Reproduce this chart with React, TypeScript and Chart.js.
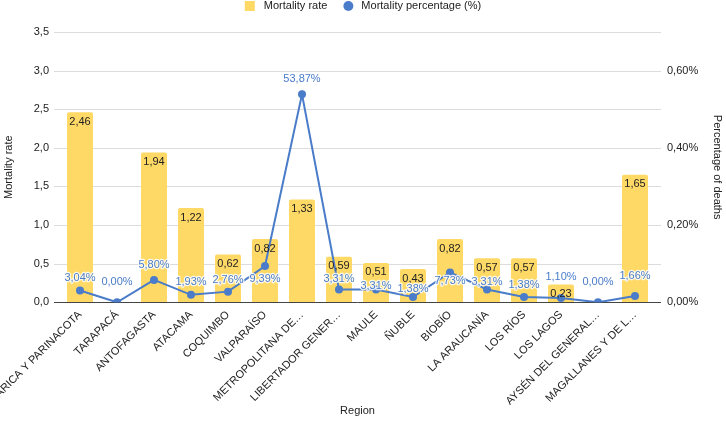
import React, { useEffect, useRef } from "react";
import { Chart, registerables } from "chart.js";

Chart.register(...registerables);

// ---- data ----
const regions = [
  "ARICA Y PARINACOTA",
  "TARAPACÁ",
  "ANTOFAGASTA",
  "ATACAMA",
  "COQUIMBO",
  "VALPARAÍSO",
  "METROPOLITANA DE…",
  "LIBERTADOR GENER…",
  "MAULE",
  "ÑUBLE",
  "BIOBÍO",
  "LA ARAUCANÍA",
  "LOS RÍOS",
  "LOS LAGOS",
  "AYSÉN DEL GENERAL…",
  "MAGALLANES Y DE L…",
];
const mortalityRate = [2.46, 0, 1.94, 1.22, 0.62, 0.82, 1.33, 0.59, 0.51, 0.43, 0.82, 0.57, 0.57, 0.23, 0, 1.65];
// values as printed on the labels (plotted on the right axis as value / 100 %)
const mortalityPercentage = [3.04, 0, 5.8, 1.93, 2.76, 9.39, 53.87, 3.31, 3.31, 1.38, 7.73, 3.31, 1.38, 1.1, 0, 1.66];
const rateTickLabels = ["0,0", "0,5", "1,0", "1,5", "2,0", "2,5", "3,0", "3,5"];
const pctTickLabels = ["0,00%", "", "0,20%", "", "0,40%", "", "0,60%", ""];

// ---- style ----
const FONT_FAMILY = "'Liberation Sans', Arial, Helvetica, sans-serif";
const YELLOW = "#ffd966";
const BLUE = "#4a7cc9";
const TEXT = "#222222";
const lineLabelDy = [-13, -20, -15, -13, -12, 13, -15, -11, -4, -8, 9, -8, -12, -21, -20, -20];

const fmt = (v: number, d: number) => v.toFixed(d).replace(".", ",");

const gridPlugin = {
  id: "customGrid",
  beforeDatasetsDraw(chart: any) {
    const { ctx, chartArea, scales } = chart;
    const y = scales.y;
    ctx.save();
    y.ticks.forEach((t: any) => {
      if (t.value === 0) return;
      const py = Math.round(y.getPixelForValue(t.value)) + 0.5;
      ctx.beginPath();
      ctx.strokeStyle = "#dcdcdc";
      ctx.lineWidth = 1;
      ctx.moveTo(chartArea.left - 7.5, py);
      ctx.lineTo(chartArea.right + 7.5, py);
      ctx.stroke();
    });
    ctx.restore();
  },
  afterDatasetDraw(chart: any, args: any) {
    if (args.index !== 0) return;
    const { ctx, chartArea, scales } = chart;
    const py = Math.round(scales.y.getPixelForValue(0)) + 0.5;
    ctx.save();
    ctx.beginPath();
    ctx.strokeStyle = "#444444";
    ctx.lineWidth = 1;
    ctx.moveTo(chartArea.left - 7.5, py);
    ctx.lineTo(chartArea.right + 7.5, py);
    ctx.stroke();
    ctx.restore();
  },
};

const labelPlugin = {
  id: "valueLabels",
  afterDatasetsDraw(chart: any) {
    const { ctx } = chart;
    ctx.save();
    ctx.font = `11px ${FONT_FAMILY}`;
    ctx.textAlign = "center";
    ctx.textBaseline = "middle";
    const barMeta = chart.getDatasetMeta(0);
    barMeta.data.forEach((el: any, i: number) => {
      if (mortalityRate[i] === 0) return;
      ctx.fillStyle = TEXT;
      ctx.fillText(fmt(mortalityRate[i], 2), el.x, el.y + 9.5);
    });
    const lineMeta = chart.getDatasetMeta(1);
    lineMeta.data.forEach((pt: any, i: number) => {
      const txt = fmt(mortalityPercentage[i], 2) + "%";
      const y = pt.y + lineLabelDy[i];
      ctx.lineJoin = "round";
      ctx.lineWidth = 2.5;
      ctx.strokeStyle = "rgba(255,255,255,0.85)";
      ctx.strokeText(txt, pt.x, y);
      ctx.fillStyle = BLUE;
      ctx.fillText(txt, pt.x, y);
    });
    ctx.restore();
  },
};

const legendPlugin = {
  id: "customLegend",
  afterDraw(chart: any) {
    const { ctx, width } = chart;
    const ds = chart.data.datasets;
    ctx.save();
    ctx.font = `11px ${FONT_FAMILY}`;
    ctx.textBaseline = "middle";
    ctx.textAlign = "left";
    const w1 = ctx.measureText(ds[0].label).width;
    const w2 = ctx.measureText(ds[1].label).width;
    const total = 10 + 9 + w1 + 16 + 10 + 8 + w2;
    let x = (width - total) / 2;
    const cy = 6;
    ctx.fillStyle = YELLOW;
    ctx.fillRect(x, cy - 5, 10, 10);
    x += 19;
    ctx.fillStyle = TEXT;
    ctx.fillText(ds[0].label, x, cy);
    x += w1 + 16;
    ctx.fillStyle = BLUE;
    ctx.beginPath();
    ctx.arc(x + 5, cy, 5, 0, Math.PI * 2);
    ctx.fill();
    x += 18;
    ctx.fillStyle = TEXT;
    ctx.fillText(ds[1].label, x, cy);
    ctx.restore();
  },
};

export default function App() {
  const canvasRef = useRef<HTMLCanvasElement | null>(null);

  useEffect(() => {
    document.body.style.margin = "0";
    const canvas = canvasRef.current;
    if (!canvas) return;
    const font = { family: FONT_FAMILY, size: 11 };
    const chart = new Chart(canvas, {
      type: "bar",
      data: {
        labels: regions,
        datasets: [
          {
            type: "bar",
            label: "Mortality rate",
            data: mortalityRate,
            backgroundColor: YELLOW,
            borderRadius: { topLeft: 2, topRight: 2, bottomLeft: 0, bottomRight: 0 },
            borderSkipped: false,
            categoryPercentage: 1,
            barPercentage: 0.703,
            yAxisID: "y",
            order: 2,
          },
          {
            type: "line",
            label: "Mortality percentage (%)",
            data: mortalityPercentage.map((v) => v / 100),
            borderColor: BLUE,
            backgroundColor: BLUE,
            borderWidth: 2,
            pointRadius: 4,
            pointBorderWidth: 0,
            pointBackgroundColor: BLUE,
            tension: 0,
            yAxisID: "y1",
            order: 1,
          },
        ],
      } as any,
      options: {
        animation: false,
        responsive: true,
        maintainAspectRatio: false,
        layout: { padding: { top: 32, bottom: 8, left: 0, right: 0 } },
        plugins: {
          legend: { display: false },
          tooltip: { enabled: false },
        },
        scales: {
          x: {
            grid: { display: false, drawTicks: false },
            border: { display: false },
            ticks: {
              autoSkip: false,
              maxRotation: 45,
              minRotation: 45,
              padding: 6,
              color: TEXT,
              font,
            },
            title: { display: true, text: "Region", color: TEXT, font, padding: { top: 4, bottom: 4 } },
            afterFit: (s: any) => {
              s.height = 430 - 8 - 302.3;
              s.paddingLeft = 0;
              s.paddingRight = 0;
            },
          },
          y: {
            position: "left",
            min: 0,
            max: 3.5,
            grid: { display: false, drawTicks: false },
            border: { display: false },
            ticks: {
              stepSize: 0.5,
              padding: 12.5,
              color: TEXT,
              font,
              callback: (_v: any, i: number) => rateTickLabels[i] ?? "",
            },
            title: { display: true, text: "Mortality rate", color: TEXT, font, padding: { top: 2, bottom: 0 } },
            afterFit: (s: any) => {
              s.width = 61.5;
            },
          },
          y1: {
            position: "right",
            min: 0,
            max: 0.7,
            grid: { display: false, drawTicks: false },
            border: { display: false },
            ticks: {
              stepSize: 0.1,
              padding: 13.5,
              color: TEXT,
              font,
              callback: (_v: any, i: number) => pctTickLabels[i] ?? "",
            },
            title: { display: true, text: "Percentage of deaths", color: TEXT, font, padding: { top: 2, bottom: 0 } },
            afterFit: (s: any) => {
              s.width = 72.5;
            },
          },
        },
      } as any,
      plugins: [gridPlugin, labelPlugin, legendPlugin],
    });
    return () => chart.destroy();
  }, []);

  return (
    <div style={{ position: "relative", width: "726px", height: "430px" }}>
      <canvas ref={canvasRef} />
    </div>
  );
}
